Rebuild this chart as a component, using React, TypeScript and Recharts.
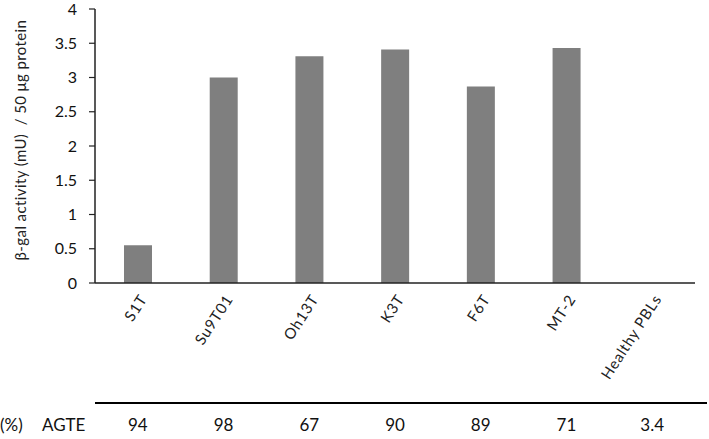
import { BarChart, Bar, XAxis, YAxis } from 'recharts';

const cells = ['S1T', 'Su9T01', 'Oh13T', 'K3T', 'F6T', 'MT-2', 'Healthy PBLs'];
const activity = [0.55, 3.0, 3.31, 3.41, 2.87, 3.43, 0];
const agte = ['94', '98', '67', '90', '89', '71', '3.4'];
const yTicks = [0, 0.5, 1, 1.5, 2, 2.5, 3, 3.5, 4];

const data = cells.map((cell, i) => ({ cell, activity: activity[i], agte: agte[i] }));

const FONT = 'Lato, "Open Sans", sans-serif';

// rotated category label, anchored at its top-right end
const CellTick = ({ x, y, payload }: any) => (
  <g transform={`translate(${x + 10},${y + 8})`}>
    <text textAnchor="end" transform="rotate(-57)" fontSize={15} letterSpacing={0.8} fill="#222" fontFamily={FONT}>
      {payload.value}
    </text>
  </g>
);

const YLabel = ({ viewBox }: any) => {
  const cx = 20;
  const cy = viewBox.y + viewBox.height / 2 - 6;
  return (
    <text
      x={cx}
      y={cy}
      textAnchor="middle"
      dominantBaseline="central"
      transform={`rotate(-90, ${cx}, ${cy})`}
      fontSize={15}
      letterSpacing={0.4}
      fill="#222"
      fontFamily={FONT}
      style={{ whiteSpace: 'pre' }}
    >
      {'β-gal activity (mU)  / 50 μg protein'}
    </text>
  );
};

export default function App() {
  return (
    <div style={{ position: 'absolute', left: 0, top: 0, width: 709, height: 439, background: '#fff', fontFamily: FONT }}>
      <BarChart
        width={709}
        height={439}
        data={data}
        margin={{ top: 9, right: 14, bottom: 0, left: 0 }}
        barCategoryGap={0}
      >
        <XAxis
          dataKey="cell"
          height={120}
          interval={0}
          axisLine={{ stroke: '#222', strokeWidth: 1.5 }}
          tickLine={false}
          tick={<CellTick />}
        />
        <XAxis
          xAxisId="agte"
          dataKey="agte"
          height={36}
          interval={0}
          axisLine={false}
          tickLine={false}
          tickMargin={10}
          tick={{ fontSize: 17, fill: '#111', fontFamily: FONT }}
        />
        <YAxis
          width={95}
          domain={[0, 4]}
          ticks={yTicks}
          interval={0}
          axisLine={{ stroke: '#222', strokeWidth: 1.5 }}
          tickLine={{ stroke: '#222', strokeWidth: 1.2 }}
          tickSize={6}
          tickMargin={12}
          tick={{ fontSize: 16, fill: '#111', fontFamily: FONT }}
          label={<YLabel />}
        />
        <Bar dataKey="activity" fill="#7f7f7f" barSize={28} isAnimationActive={false} />
      </BarChart>
      <div style={{ position: 'absolute', left: 95, top: 402, width: 612, borderTop: '2.5px solid #000' }} />
      <div style={{ position: 'absolute', left: 0, top: 414, fontSize: 17, color: '#111' }}>(%)</div>
      <div style={{ position: 'absolute', left: 42, top: 414, fontSize: 17, color: '#111' }}>AGTE</div>
    </div>
  );
}
